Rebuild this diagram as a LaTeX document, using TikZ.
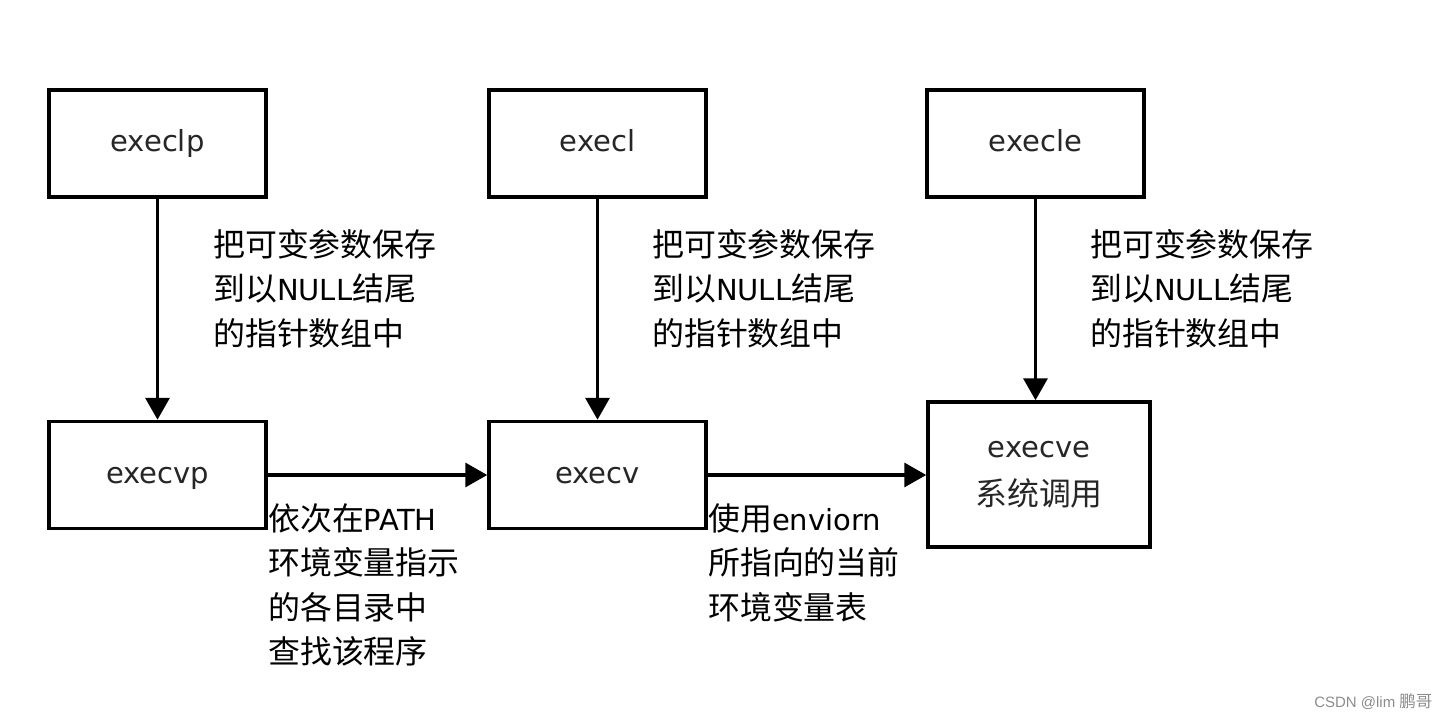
\documentclass[tikz,border=0pt]{standalone}
\usepackage{fontspec}
\setmainfont{DejaVu Sans}
\newfontfamily\cjk{Noto Sans CJK SC}[Scale=1.1]
\newfontfamily\markfont{Liberation Sans}
\usetikzlibrary{arrows.meta}
\usetikzlibrary{calc}

\newcommand{\zh}[1]{{\cjk #1}}

\tikzset{
    fn/.style={draw, line width=3.5pt, minimum width=217pt, minimum height=107pt, inner sep=0pt,
        text height=22pt, text depth=6pt,
        font=\fontsize{29}{48}\selectfont, text=black!85, align=center},
    call/.style={line width=3.5pt, -{Triangle[length=22pt, width=24pt]}},
    note/.style={anchor=north west, inner sep=0pt, align=left, font=\fontsize{29}{44.5}\selectfont}
}

\begin{document}
\begin{tikzpicture}[x=1pt, y=-1pt]

    \useasboundingbox (0,0) rectangle (1451,719);

    % top row
    \node [fn] (execlp) at (157.5, 143.5) {execlp};
    \node [fn] (execl) at (597.5, 143.5) {execl};
    \node [fn] (execle) at (1035.5, 143.5) {execle};

    % bottom row
    \node [fn] (execvp) at (157.5, 475) {execvp};
    \node [fn] (execv) at (597.5, 475) {execv};
    \node [fn, text height=, text depth=, minimum width=222pt, minimum height=145pt] (execve) at (1039, 474.5) {execve\\\zh{系统调用}};

    \draw [call] (execlp) -- (execvp);
    \draw [call] (execl) -- (execv);
    \draw [call] (execle.south) -- (execle.south |- execve.north);
    \draw [call] (execvp) -- (execv);
    \draw [call] (execv.east) -- (execv.east -| execve.west);

    \node [note] (packlp) at (213, 229) {\zh{把可变参数保存}\\\zh{到以}NULL\zh{结尾}\\\zh{的指针数组中}};
    \node [note] (packl) at (652, 229) {\zh{把可变参数保存}\\\zh{到以}NULL\zh{结尾}\\\zh{的指针数组中}};
    \node [note] (packle) at (1090, 229) {\zh{把可变参数保存}\\\zh{到以}NULL\zh{结尾}\\\zh{的指针数组中}};

    \node [note] (search) at (268, 503) {\zh{依次在}PATH\\\zh{环境变量指示}\\\zh{的各目录中}\\\zh{查找该程序}};
    \node [note] (useenv) at (708, 503) {\zh{使用}enviorn\\\zh{所指向的当前}\\\zh{环境变量表}};

    \node [anchor=base east, text=black!45, font=\markfont\fontsize{15}{15}\selectfont] (mark) at (1436, 707) {CSDN @lim \zh{鹏哥}};

\end{tikzpicture}
\end{document}
